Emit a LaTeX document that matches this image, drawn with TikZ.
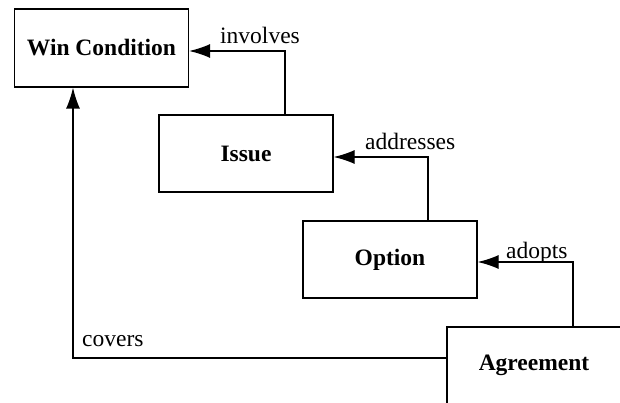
\documentclass[tikz,border=0pt]{standalone}
\usepackage{fontspec}
\setmainfont{Liberation Serif}
\usetikzlibrary{arrows.meta}
\begin{document}
\begin{tikzpicture}[x=1pt,y=-1pt,
  box/.style={draw,line width=1.3pt,minimum width=174pt,minimum height=77pt,inner sep=0pt,
    font=\fontsize{23.5}{28}\selectfont\bfseries},
  lbl/.style={anchor=base west,inner sep=0pt,font=\fontsize{23.5}{28}\selectfont},
  conn/.style={line width=1.3pt,-{Latex[length=21pt,width=14pt]}}]
\useasboundingbox (0,0) rectangle (620,403);
\clip (0,0) rectangle (620,403);
\node[box,minimum height=78pt] (win) at (101.5,48) {Win Condition};
\node[box] (issue) at (246,153.5) {Issue};
\node[box] (option) at (390,259.5) {Option};
\node[box] (agree) at (534,365.5) {Agreement};
\draw[conn] ([xshift=39pt]issue.north) |- ([yshift=-3pt]win.east);
\draw[conn] ([xshift=38pt]option.north) |- ([yshift=-3.5pt]issue.east);
\draw[conn] ([xshift=39pt]agree.north) |- ([yshift=-2.5pt]option.east);
\draw[conn] ([yshift=7.5pt]agree.west) -| ([xshift=-28.5pt]win.south);
\node[lbl] (l1) at (220,44) {involves};
\node[lbl] (l2) at (365,150) {addresses};
\node[lbl] (l3) at (506,258) {adopts};
\node[lbl] (l4) at (82,346) {covers};
\end{tikzpicture}
\end{document}
